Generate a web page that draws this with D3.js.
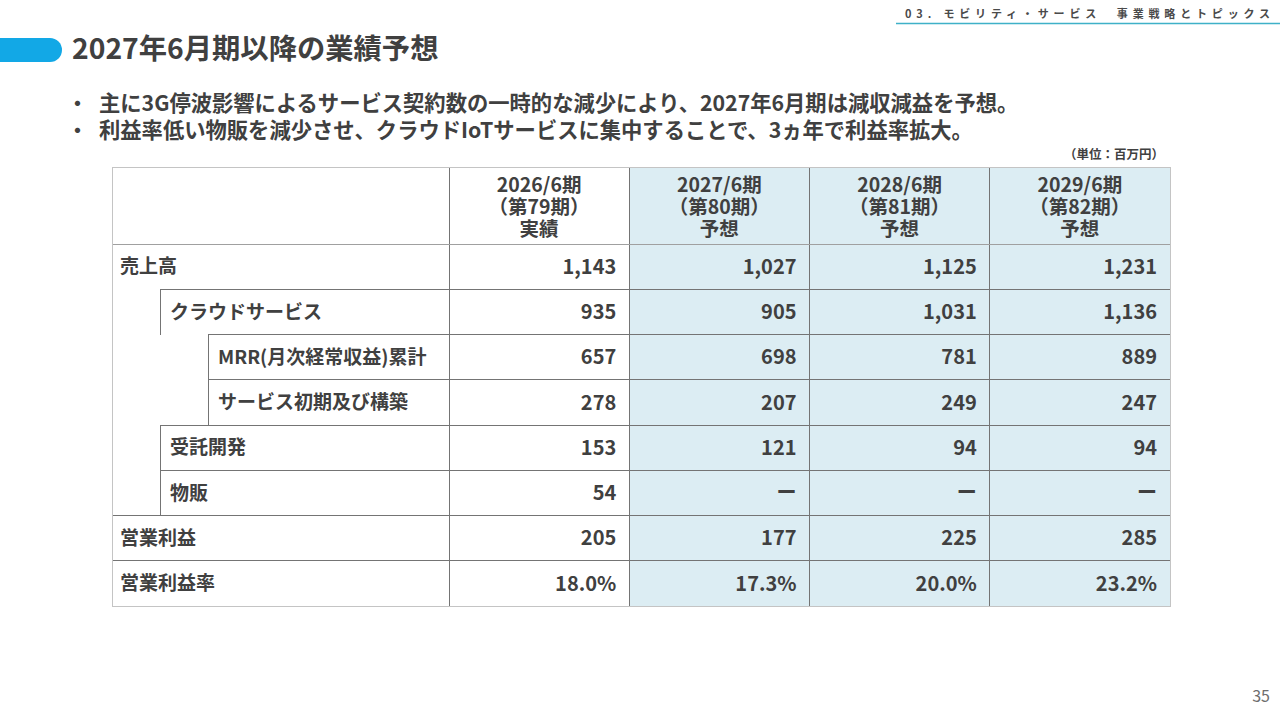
<!DOCTYPE html>
<html>
<head>
<meta charset="utf-8">
<script src="https://cdn.jsdelivr.net/npm/d3@7.9.0/dist/d3.min.js"></script>
<style>
  html, body { margin: 0; padding: 0; background: #fff; }
  svg { display: block; font-family: "Noto Sans CJK JP", "Noto Sans", sans-serif; }
</style>
</head>
<body>
<svg id="slide" width="1280" height="720"></svg>
<script>
// Table data (単位：百万円)
const periods = ["2026/6期", "2027/6期", "2028/6期", "2029/6期"];
const periodNos = ["（第79期）", "（第80期）", "（第81期）", "（第82期）"];
const periodTypes = ["実績", "予想", "予想", "予想"];

const rowLabels = ["売上高", "クラウドサービス", "MRR(月次経常収益)累計", "サービス初期及び構築",
                   "受託開発", "物販", "営業利益", "営業利益率"];
const rowLevels = [0, 1, 2, 2, 1, 1, 0, 0];

const actual2026 = [1143, 935, 657, 278, 153, 54, 205, 18.0];
const plan2027 = [1027, 905, 698, 207, 121, null, 177, 17.3];
const plan2028 = [1125, 1031, 781, 249, 94, null, 225, 20.0];
const plan2029 = [1231, 1136, 889, 247, 94, null, 285, 23.2];
const columns = [actual2026, plan2027, plan2028, plan2029];

const bullets = [
    "主に3G停波影響によるサービス契約数の一時的な減少により、2027年6月期は減収減益を予想。",
    "利益率低い物販を減少させ、クラウドIoTサービスに集中することで、3ヵ年で利益率拡大。"
];

const textColor = "#404040";
const svg = d3.select("#slide");

// Section header top right
svg.append("text")
    .attr("x", 905)
    .attr("y", 18)
    .attr("textLength", 365)
    .attr("lengthAdjust", "spacing")
    .style("font-size", "11px")
    .style("font-weight", "700")
    .attr("fill", "#4a4a4a")
    .text("03. モビリティ・サービス　事業戦略とトピックス");

svg.append("line")
    .attr("x1", 896).attr("x2", 1280)
    .attr("y1", 23.5).attr("y2", 23.5)
    .attr("stroke", "#3fb1c8")
    .attr("stroke-width", 1.5);

// Title bar
svg.append("path")
    .attr("d", "M0,38 H50 A12,12 0 0 1 50,62 H0 Z")
    .attr("fill", "#12a8e6");

svg.append("text")
    .attr("x", 72)
    .attr("y", 59)
    .style("font-size", "28.3px")
    .style("font-weight", "700")
    .attr("fill", textColor)
    .text("2027年6月期以降の業績予想");

// Bullets
bullets.forEach((b, i) => {
    const y = 111 + i * 27;
    svg.append("text")
        .attr("x", 67).attr("y", y)
        .style("font-size", "21px")
        .style("font-weight", "700")
        .attr("fill", textColor)
        .text("・");
    svg.append("text")
        .attr("x", 99).attr("y", y)
        .style("font-size", "21.3px")
        .style("font-weight", "700")
        .attr("fill", textColor)
        .text(b);
});

// Unit
svg.append("text")
    .attr("x", 1164).attr("y", 159)
    .attr("text-anchor", "end")
    .style("font-size", "12.5px")
    .style("font-weight", "700")
    .attr("fill", textColor)
    .text("（単位：百万円）");

// Table geometry
const tableLeft = 112, tableTop = 167, headerBottom = 244;
const indent = [112, 160, 208];

const x = d3.scaleBand()
    .domain(periods)
    .range([449, 1170]);

const y = d3.scaleBand()
    .domain(rowLabels)
    .range([headerBottom, 606]);

const tableRight = x.range()[1], tableBottom = y.range()[1];

// Forecast columns background
svg.append("rect")
    .attr("x", x(periods[1]))
    .attr("y", tableTop)
    .attr("width", tableRight - x(periods[1]))
    .attr("height", tableBottom - tableTop)
    .attr("fill", "#dcedf3");

const grid = svg.append("g")
    .attr("stroke-width", 1)
    .attr("shape-rendering", "crispEdges");

// Row top lines and indent verticals
rowLabels.forEach((r, i) => {
    const lvl = rowLevels[i];
    if (i > 0) {
        grid.append("line")
            .attr("x1", indent[lvl]).attr("x2", tableRight)
            .attr("y1", y(r)).attr("y2", y(r))
            .attr("stroke", "#747474");
    }
    if (lvl > 0) {
        grid.append("line")
            .attr("x1", indent[lvl]).attr("x2", indent[lvl])
            .attr("y1", y(r)).attr("y2", y(r) + y.bandwidth())
            .attr("stroke", "#747474");
    }
});

// Column separators
periods.forEach(p => {
    grid.append("line")
        .attr("x1", x(p)).attr("x2", x(p))
        .attr("y1", tableTop).attr("y2", tableBottom)
        .attr("stroke", "#747474");
});

// Header bottom line
grid.append("line")
    .attr("x1", tableLeft).attr("x2", tableRight)
    .attr("y1", headerBottom).attr("y2", headerBottom)
    .attr("stroke", "#a0a0a0");

// Outer border
grid.append("rect")
    .attr("x", tableLeft).attr("y", tableTop)
    .attr("width", tableRight - tableLeft)
    .attr("height", tableBottom - tableTop)
    .attr("fill", "none")
    .attr("stroke", "#c4c4c4");

// Header text: one text per column, three lines as tspans
svg.append("g")
    .attr("text-anchor", "middle")
    .style("font-size", "19.5px")
    .style("font-weight", "700")
    .attr("fill", textColor)
    .selectAll("text")
    .data(periods)
    .join("text")
    .attr("y", 185)
    .each(function(p, i) {
        const cx = x(p) + x.bandwidth() / 2;
        d3.select(this).selectAll("tspan")
            .data([p, periodNos[i], periodTypes[i]])
            .join("tspan")
            .attr("x", cx)
            .attr("y", (t, j) => 185 + j * 22)
            .attr("dy", "0.36em")
            .text(t => t);
    });

// Row labels
svg.append("g")
    .style("font-size", "19px")
    .style("font-weight", "700")
    .attr("fill", textColor)
    .selectAll("text")
    .data(rowLabels)
    .join("text")
    .attr("x", (d, i) => indent[rowLevels[i]] + (rowLevels[i] === 0 ? 8 : 10))
    .attr("y", d => y(d) + y.bandwidth() / 2)
    .attr("dy", "0.36em")
    .text(d => d);

// Values
const fmtNum = d3.format(",");
const fmtPct = d => d3.format(".1f")(d) + "%";

columns.forEach((col, ci) => {
    svg.append("g")
        .attr("text-anchor", "end")
        .style("font-size", "20px")
        .style("font-weight", "700")
        .attr("fill", textColor)
        .selectAll("text")
        .data(col)
        .join("text")
        .attr("x", x(periods[ci]) + x.bandwidth() - 13)
        .attr("y", (d, i) => y(rowLabels[i]) + y.bandwidth() / 2)
        .attr("dy", "0.36em")
        .text((d, i) => d === null ? "ー" : (i === rowLabels.length - 1 ? fmtPct(d) : fmtNum(d)));
});

// Page number
svg.append("text")
    .attr("x", 1270).attr("y", 702)
    .attr("text-anchor", "end")
    .style("font-size", "16px")
    .attr("fill", "#6e6e6e")
    .text("35");
</script>
</body>
</html>
